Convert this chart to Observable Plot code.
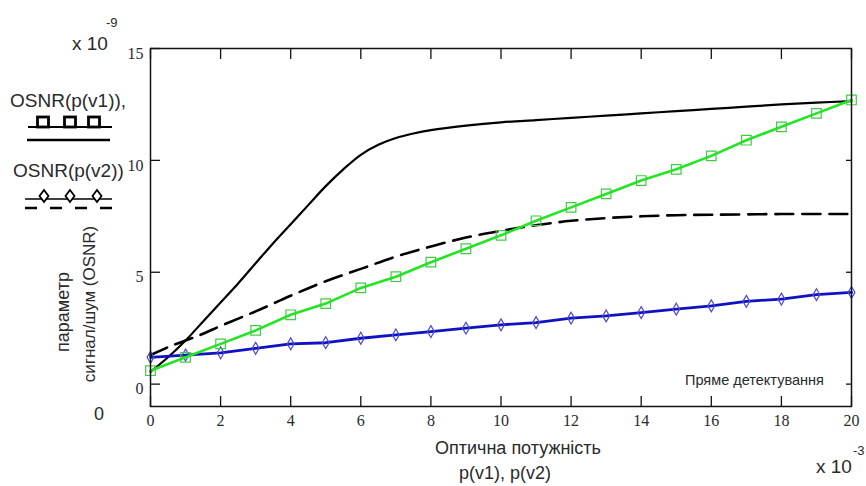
<!DOCTYPE html>
<html><head><meta charset="utf-8">
<script src="https://cdn.jsdelivr.net/npm/d3@7"></script>
<script src="https://cdn.jsdelivr.net/npm/@observablehq/plot@0.6"></script>
<style>
html,body{margin:0;padding:0;background:#fff;}
#wrap{position:relative;width:866px;height:486px;overflow:hidden;background:#fff;}
#wrap svg{position:absolute;left:0;top:0;}
</style></head><body><div id="wrap"></div>
<script>
// ---- data (x in units of 10^-3, y in units of 10^-9) ----
const solidX = [0,0.5,1,1.5,2,2.5,3,3.5,4,4.5,5,5.5,6,6.5,7,7.5,8,9,10,11,12,13,14,15,16,17,18,19,20];
const solidY = [0.55,1.2,1.95,2.8,3.65,4.5,5.4,6.3,7.15,8.0,8.85,9.6,10.25,10.7,11.0,11.2,11.35,11.55,11.7,11.8,11.9,12.0,12.1,12.2,12.3,12.4,12.5,12.58,12.65];
const dashX = [0,0.5,1,1.5,2,3,4,5,6,7,8,9,10,11,12,13,14,15,16,18,20];
const dashY = [1.3,1.65,1.95,2.25,2.6,3.25,3.95,4.6,5.15,5.7,6.15,6.55,6.85,7.1,7.3,7.42,7.5,7.55,7.57,7.6,7.6];
const markX = [0,1,2,3,4,5,6,7,8,9,10,11,12,13,14,15,16,17,18,19,20];
const greenY = [0.6,1.2,1.8,2.4,3.1,3.6,4.3,4.8,5.45,6.05,6.65,7.3,7.9,8.5,9.1,9.6,10.2,10.9,11.5,12.1,12.7];
const blueY = [1.2,1.3,1.4,1.6,1.8,1.85,2.05,2.2,2.35,2.5,2.65,2.75,2.95,3.05,3.2,3.35,3.5,3.7,3.8,4.0,4.1];
const xTicks = [0,2,4,6,8,10,12,14,16,18,20];
const yTicks = [0,5,10,15];
const legendLabels = ["OSNR(p(v1)),", "OSNR(p(v2))"];
const yTitle = ["параметр", "сигнал/шум (OSNR)"];
const xTitle = ["Оптична потужність", "p(v1), p(v2)"];
const note = "Пряме детектування";

const solid = solidX.map((x,i)=>({x, y: solidY[i]}));
const dashed = dashX.map((x,i)=>({x, y: dashY[i]}));
const green = markX.map((x,i)=>({x, y: greenY[i]}));
const blue = markX.map((x,i)=>({x, y: blueY[i]}));

const sans = "'Liberation Sans', Arial, sans-serif";
const serif = "'Liberation Serif', 'Times New Roman', serif";
const txt = "#2a2a2a";

const chart = Plot.plot({
  width: 866, height: 486,
  marginLeft: 150, marginRight: 15, marginTop: 48, marginBottom: 80,
  x: {domain: [0, 20]},
  y: {domain: [-1, 15]},
  style: {background: "white", fontFamily: serif, color: txt, overflow: "visible"},
  marks: [
    Plot.axisX({ticks: xTicks, anchor: "bottom", tickSize: -10, tickFormat: () => "", label: null, stroke: "#111", strokeWidth: 1.3}),
    Plot.axisX({ticks: xTicks, anchor: "top", tickSize: -10, tickFormat: () => "", label: null, stroke: "#111", strokeWidth: 1.3}),
    Plot.axisX({ticks: xTicks, anchor: "bottom", tickSize: 0, tickPadding: 8, fontSize: 16, fontFamily: serif, fill: txt, label: null}),
    Plot.axisY({ticks: yTicks, anchor: "left", tickSize: -10, tickFormat: () => "", label: null, stroke: "#111", strokeWidth: 1.3}),
    Plot.axisY({ticks: yTicks.slice(0,3), anchor: "right", tickSize: -6, tickFormat: () => "", label: null, stroke: "#111", strokeWidth: 1.3}),
    Plot.axisY({ticks: yTicks, anchor: "left", tickSize: 0, tickPadding: 7, dy: 5, fontSize: 16, fontFamily: serif, fill: txt, label: null}),
    Plot.line(dashed, {x: "x", y: "y", stroke: "#000", strokeWidth: 2.6, strokeDasharray: "18,9", curve: "catmull-rom"}),
    Plot.line(solid, {x: "x", y: "y", stroke: "#000", strokeWidth: 2.2, curve: "catmull-rom"}),
    Plot.line(blue, {x: "x", y: "y", stroke: "#1111c4", strokeWidth: 2.8}),
    Plot.dot(blue, {x: "x", y: "y", symbol: "diamond", r: 3.6, stroke: "#4a4ad0", strokeWidth: 1.2, fill: "none"}),
    Plot.line(green, {x: "x", y: "y", stroke: "#22e622", strokeWidth: 2.6}),
    Plot.dot(green, {x: "x", y: "y", symbol: "square", r: 5.4, stroke: "#44c944", strokeWidth: 1.2, fill: "none"}),
    Plot.frame({stroke: "#111", strokeWidth: 1.5})
  ]
});
const wrap = document.getElementById("wrap");
wrap.appendChild(chart);

// ---- overlay: legend, titles, multipliers ----
const ov = d3.select(wrap).append("svg").attr("width", 866).attr("height", 486)
  .style("font-family", sans).style("pointer-events", "none");
function t(s, x, y, size, anchor = "start", rot = 0) {
  const e = ov.append("text").text(s).attr("font-size", size).attr("fill", txt)
    .attr("text-anchor", anchor);
  if (rot) e.attr("transform", `translate(${x},${y}) rotate(${rot})`).attr("dominant-baseline", "central");
  else e.attr("x", x).attr("y", y);
  return e;
}
// multipliers
t("x 10", 72, 50, 19);
t("-9", 106, 27, 13);
t("x 10", 816, 473, 19);
t("-3", 853, 455, 13);
// legend
t(legendLabels[0], 10, 107, 19);
t(legendLabels[1], 13, 177, 19);
ov.append("line").attr("x1", 28).attr("x2", 112).attr("y1", 127).attr("y2", 127).attr("stroke", "#000").attr("stroke-width", 2);
[43, 70, 94].forEach(cx => ov.append("rect").attr("x", cx - 5.5).attr("y", 117).attr("width", 11).attr("height", 10)
  .attr("fill", "white").attr("stroke", "#000").attr("stroke-width", 2.8));
ov.append("line").attr("x1", 27).attr("x2", 110).attr("y1", 140).attr("y2", 140).attr("stroke", "#000").attr("stroke-width", 2.5);
ov.append("line").attr("x1", 25).attr("x2", 112).attr("y1", 199).attr("y2", 199).attr("stroke", "#000").attr("stroke-width", 1.6);
[44, 70, 97].forEach(cx => ov.append("path").attr("d", `M${cx},190 L${cx+4.5},196 L${cx},202 L${cx-4.5},196 Z`)
  .attr("fill", "white").attr("stroke", "#000").attr("stroke-width", 1.8));
ov.append("line").attr("x1", 25).attr("x2", 112).attr("y1", 208).attr("y2", 208).attr("stroke", "#000").attr("stroke-width", 2.5).attr("stroke-dasharray", "12,13");
// axis titles
t(yTitle[0], 63, 312, 18, "middle", -90);
t(yTitle[1], 89, 304, 17, "middle", -90);
t("0", 99, 420, 18, "middle");
t(xTitle[0], 518, 454, 18, "middle");
t(xTitle[1], 505, 479, 18, "middle");
t(note, 685, 385, 14.5);
</script></body></html>
